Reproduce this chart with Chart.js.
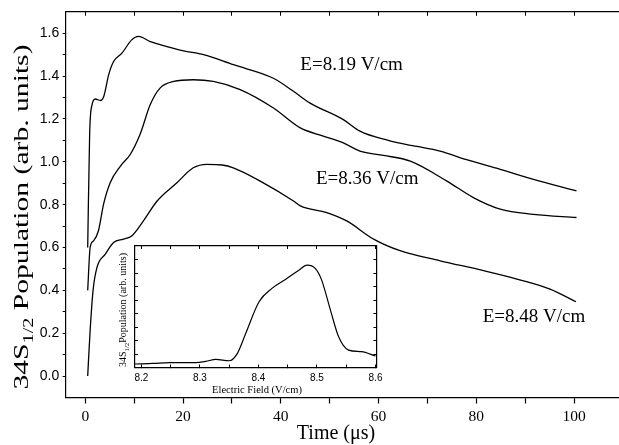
<!DOCTYPE html>
<html>
<head>
<meta charset="utf-8">
<script src="https://cdn.jsdelivr.net/npm/chart.js@4.4.0/dist/chart.umd.min.js"></script>
<style>
  html, body { margin: 0; padding: 0; background: #fff; }
  #wrap { position: relative; width: 619px; height: 445px; }
  #main-chart { position: absolute; left: 0; top: 0; }
  #inset-chart { position: absolute; left: 100px; top: 240px; }
</style>
</head>
<body>
<div id="wrap">
  <canvas id="main-chart" width="619" height="445"></canvas>
  <canvas id="inset-chart" width="290" height="160"></canvas>
</div>
<script>
// main plot: population vs time for three fields
const timeE819 = [0.5, 0.9, 1.4, 2.05, 3.1, 3.8, 4.8, 5.8, 7.5, 9.5, 10.9, 13.3, 16.7, 20.1, 24.2, 30.3, 38.5, 42.6, 46, 52.8, 56.2, 62, 67, 72.6, 78, 84.9, 91.7, 100.5];
const popE819 = [0.6, 1.13, 1.267, 1.293, 1.286, 1.306, 1.407, 1.468, 1.507, 1.569, 1.585, 1.561, 1.538, 1.518, 1.5, 1.453, 1.39, 1.329, 1.274, 1.197, 1.143, 1.1, 1.075, 1.05, 1.01, 0.965, 0.918, 0.864];

const timeE836 = [0.5, 1.0, 1.7, 2.7, 3.75, 5.1, 7.2, 9.2, 11.2, 13.3, 15.3, 18.1, 22.1, 26.2, 31.7, 38.5, 44, 48.7, 52.8, 56.2, 61, 66.5, 74, 79.4, 84.9, 91.7, 100.5];
const popE836 = [0.4, 0.6, 0.631, 0.678, 0.802, 0.902, 0.98, 1.034, 1.127, 1.267, 1.344, 1.375, 1.383, 1.375, 1.337, 1.251, 1.158, 1.12, 1.088, 1.05, 1.03, 1.003, 0.91, 0.833, 0.779, 0.755, 0.74];

const timeE848 = [0.5, 1.0, 1.6, 2.4, 4.1, 5.8, 7.8, 9.5, 11.9, 14.7, 18.75, 22.1, 24.9, 28, 30.3, 35.8, 42.6, 44, 49.4, 53.5, 59, 64.4, 72.6, 81.5, 88.3, 95.1, 100.4];
const popE848 = [0.0, 0.213, 0.4, 0.507, 0.569, 0.623, 0.639, 0.654, 0.724, 0.817, 0.902, 0.972, 0.988, 0.985, 0.972, 0.91, 0.817, 0.794, 0.763, 0.724, 0.639, 0.585, 0.538, 0.492, 0.453, 0.406, 0.347];

// inset: population vs electric field
const fieldValues = [8.189, 8.22, 8.248, 8.293, 8.31, 8.327, 8.35, 8.364, 8.378, 8.401, 8.423, 8.446, 8.469, 8.483, 8.497, 8.508, 8.523, 8.537, 8.554, 8.576, 8.6];
const fieldPop = [0.26, 0.3, 0.36, 0.36, 0.45, 0.6, 0.5, 1.05, 2.5, 4.87, 5.86, 6.52, 7.21, 7.58, 7.34, 6.47, 4.25, 2.28, 1.29, 1.17, 0.85];

const timeTicks = [0, 10, 20, 30, 40, 50, 60, 70, 80, 90, 100];
const popTicks = [0, 0.1, 0.2, 0.3, 0.4, 0.5, 0.6, 0.7, 0.8, 0.9, 1.0, 1.1, 1.2, 1.3, 1.4, 1.5, 1.6];
const fieldTicks = [8.2, 8.25, 8.3, 8.35, 8.4, 8.45, 8.5, 8.55, 8.6];
const insetPopTicks = [1, 2, 3, 4, 5, 6, 7, 8];

const curveLabels = ["E=8.19 V/cm", "E=8.36 V/cm", "E=8.48 V/cm"];

const SERIF = '"Liberation Serif", "Times New Roman", serif';
const SANS = '"Liberation Sans", Arial, sans-serif';

const toPoints = (xs, ys) => xs.map((x, i) => ({ x: x, y: ys[i] }));

const setTicks = (values) => (scale) => { scale.ticks = values.map((v) => ({ value: v })); };

const lineSet = (data, width) => ({
  data: data,
  borderColor: '#000',
  borderWidth: width,
  pointRadius: 0,
  fill: false,
  cubicInterpolationMode: 'monotone'
});

// rotated "34S_1/2 Population (arb. units)" with a real subscript
const drawPopTitle = (ctx, cx, cy, size, length, gap) => {
  const sub = size * 0.68;
  const head = '34S', tail = (gap ? ' ' : '') + 'Population (arb. units)';
  ctx.save();
  ctx.translate(cx, cy);
  ctx.rotate(-Math.PI / 2);
  ctx.font = size + 'px ' + SERIF;
  const wHead = ctx.measureText(head).width;
  const wTail = ctx.measureText(tail).width;
  ctx.font = sub + 'px ' + SERIF;
  const wSub = ctx.measureText('1/2').width;
  const total = wHead + wSub + wTail;
  const k = length ? length / total : 1;
  ctx.scale(k, 1);
  ctx.fillStyle = '#000';
  ctx.textBaseline = 'alphabetic';
  const base = size * 0.33;
  let x = -total / 2;
  ctx.font = size + 'px ' + SERIF;
  ctx.fillText(head, x, base);
  x += wHead;
  ctx.font = sub + 'px ' + SERIF;
  ctx.fillText('1/2', x, base + size * 0.28);
  x += wSub;
  ctx.font = size + 'px ' + SERIF;
  ctx.fillText(tail, x, base);
  ctx.restore();
};

const mainText = {
  id: 'mainText',
  afterDraw(chart) {
    const ctx = chart.ctx;
    const sx = chart.scales.x, sy = chart.scales.y;
    ctx.save();
    ctx.fillStyle = '#000';
    ctx.font = '20px ' + SERIF;
    ctx.textAlign = 'center';
    ctx.textBaseline = 'middle';
    ctx.fillText('Time (\u03bcs)', 336, 434);
    // curve labels placed in data units
    const spots = [[44, 1.453], [47.2, 0.918], [81.3, 0.274]];
    ctx.font = '19px ' + SERIF;
    ctx.textAlign = 'left';
    curveLabels.forEach((txt, i) => {
      ctx.fillText(txt, sx.getPixelForValue(spots[i][0]), sy.getPixelForValue(spots[i][1]));
    });
    ctx.restore();
    drawPopTitle(ctx, 21, 217, 20, 345, true);
  }
};

const insetText = {
  id: 'insetText',
  afterDraw(chart) {
    const ctx = chart.ctx;
    ctx.save();
    ctx.fillStyle = '#000';
    ctx.font = '10.5px ' + SERIF;
    ctx.textAlign = 'center';
    ctx.textBaseline = 'middle';
    ctx.fillText('Electric Field (V/cm)', 157, 150);
    ctx.restore();
    drawPopTitle(ctx, 23, 70, 10, 0, false);
  }
};

const axisLine = { display: true, color: '#000', width: 1.2 };

var mainCtx = document.getElementById('main-chart').getContext('2d');
var mainChart = new Chart(mainCtx, {
  type: 'line',
  data: {
    datasets: [
      lineSet(toPoints(timeE819, popE819), 1.3),
      lineSet(toPoints(timeE836, popE836), 1.3),
      lineSet(toPoints(timeE848, popE848), 1.3)
    ]
  },
  options: {
    responsive: false,
    animation: false,
    layout: { padding: 0 },
    plugins: { legend: { display: false }, tooltip: { enabled: false } },
    scales: {
      x: {
        type: 'linear', position: 'bottom', min: -4, max: 109.2,
        afterBuildTicks: setTicks(timeTicks),
        afterFit: (s) => { s.height = 47.5; },
        border: axisLine,
        grid: { drawOnChartArea: false, tickLength: 6, tickColor: '#000', tickWidth: 1.2 },
        ticks: {
          color: '#000', padding: 4, maxRotation: 0, autoSkip: false,
          font: { family: SERIF, size: 15.5 },
          callback: (v) => (v % 20 === 0 ? String(v) : '')
        }
      },
      x2: {
        type: 'linear', position: 'top', min: -4, max: 109.2,
        afterBuildTicks: setTicks(timeTicks),
        afterFit: (s) => { s.height = 10.7; },
        border: axisLine,
        grid: { drawOnChartArea: false, tickLength: -4, tickColor: '#000', tickWidth: 1 },
        ticks: { display: false }
      },
      y: {
        type: 'linear', position: 'left', min: -0.1, max: 1.7,
        afterBuildTicks: setTicks(popTicks),
        afterFit: (s) => { s.width = 65.7; },
        border: axisLine,
        grid: { drawOnChartArea: false, tickLength: 3, tickColor: '#000', tickWidth: 1 },
        ticks: {
          color: '#000', padding: 3.4, autoSkip: false,
          font: { family: SANS, size: 14 },
          callback: (v) => (Math.round(v * 10) % 2 === 0 ? v.toFixed(1) : '')
        }
      }
    }
  },
  plugins: [mainText]
});

var insetCtx = document.getElementById('inset-chart').getContext('2d');
var insetChart = new Chart(insetCtx, {
  type: 'line',
  data: { datasets: [lineSet(toPoints(fieldValues, fieldPop), 1.2)] },
  options: {
    responsive: false,
    animation: false,
    layout: { padding: { left: 0, right: 10.7, top: 0, bottom: 0 } },
    plugins: { legend: { display: false }, tooltip: { enabled: false } },
    scales: {
      x: {
        type: 'linear', position: 'bottom', min: 8.189, max: 8.6015,
        afterBuildTicks: setTicks(fieldTicks),
        afterFit: (s) => { s.height = 32.5; },
        border: axisLine,
        grid: { drawOnChartArea: false, tickLength: -3, tickColor: '#000', tickWidth: 1 },
        ticks: {
          color: '#000', padding: 7.5, maxRotation: 0, autoSkip: false,
          font: { family: SANS, size: 10 },
          callback: (v) => (Math.round(v * 100) % 10 === 0 ? v.toFixed(1) : '')
        }
      },
      x2: {
        type: 'linear', position: 'top', min: 8.189, max: 8.6015,
        afterBuildTicks: setTicks(fieldTicks),
        afterFit: (s) => { s.height = 6; },
        border: axisLine,
        grid: { drawOnChartArea: false, tickLength: -3, tickColor: '#000', tickWidth: 1 },
        ticks: { display: false }
      },
      y: {
        type: 'linear', position: 'left', min: 0, max: 9,
        afterBuildTicks: setTicks(insetPopTicks),
        afterFit: (s) => { s.width = 35; },
        border: axisLine,
        grid: { drawOnChartArea: false, tickLength: -3, tickColor: '#000', tickWidth: 1 },
        ticks: { display: false }
      },
      y2: {
        type: 'linear', position: 'right', min: 0, max: 9,
        afterBuildTicks: setTicks(insetPopTicks),
        afterFit: (s) => { s.width = 0; },
        border: axisLine,
        grid: { drawOnChartArea: false, tickLength: -3, tickColor: '#000', tickWidth: 1 },
        ticks: { display: false }
      }
    }
  },
  plugins: [insetText]
});
</script>
</body>
</html>
